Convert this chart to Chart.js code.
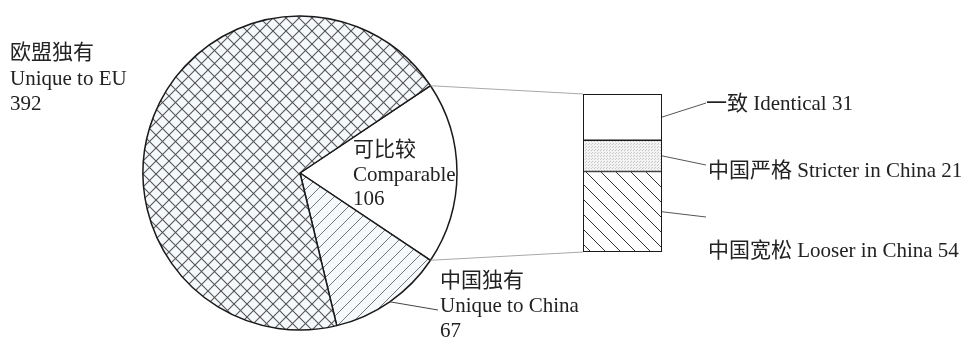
<!DOCTYPE html>
<html><head><meta charset="utf-8">
<script src="https://cdn.jsdelivr.net/npm/chart.js@4"></script>
<style>
html,body{margin:0;padding:0;background:#fff;width:968px;height:337px;overflow:hidden;position:relative}
canvas{position:absolute}
</style></head><body>
<canvas id="pie" width="340" height="336" style="left:130px;top:5px"></canvas>
<canvas id="bar" width="99" height="178" style="left:573px;top:84px"></canvas>
<canvas id="ov" width="968" height="337" style="left:0;top:0"></canvas>
<script>
// ---- data ----
const pieCategoriesZh = ['可比较', '中国独有', '欧盟独有'];
const pieCategoriesEn = ['Comparable', 'Unique to China', 'Unique to EU'];
const pieValues = [106, 67, 392];
const barCategoriesZh = ['中国宽松', '中国严格', '一致'];
const barCategoriesEn = ['Looser in China', 'Stricter in China', 'Identical'];
const barValues = [54, 21, 31];

// ---- patterns ----
function makePattern(size, bg, draw) {
  const c = document.createElement('canvas');
  c.width = size; c.height = size;
  const x = c.getContext('2d');
  x.fillStyle = bg; x.fillRect(0, 0, size, size);
  draw(x, size);
  return x.createPattern(c, 'repeat');
}
function diag(x, s, dir) {
  // dir 1: "\" ; dir -1: "/"
  x.beginPath();
  for (let k = -1; k <= 1; k++) {
    if (dir > 0) { x.moveTo(k * s - 1, -1); x.lineTo(k * s + s + 1, s + 1); }
    else { x.moveTo(k * s - 1, s + 1); x.lineTo(k * s + s + 1, -1); }
  }
  x.stroke();
}
const crossHatch = makePattern(13, '#f6f9fc', (x, s) => {
  x.strokeStyle = '#555'; x.lineWidth = 1.1;
  diag(x, s, 1); diag(x, s, -1);
});
const fwdHatch = makePattern(12, '#f6f9fc', (x, s) => {
  x.strokeStyle = '#777'; x.lineWidth = 1;
  diag(x, s, -1);
});
const backHatch = makePattern(15, '#ffffff', (x, s) => {
  x.strokeStyle = '#333'; x.lineWidth = 1;
  diag(x, s, 1);
});
const dots = makePattern(3, '#f3f3f3', (x) => {
  x.fillStyle = '#c8c8c8'; x.fillRect(0, 0, 1, 1); x.fillRect(1, 2, 1, 1);
});

const pieTotal = pieValues.reduce((a, b) => a + b, 0);
const barTotal = barValues.reduce((a, b) => a + b, 0);

const pieChart = new Chart(document.getElementById('pie'), {
  type: 'pie',
  data: {
    labels: pieCategoriesEn,
    datasets: [{
      data: pieValues,
      backgroundColor: ['#ffffff', fwdHatch, crossHatch],
      borderColor: '#1a1a1a',
      borderWidth: 1.5
    }]
  },
  options: {
    responsive: false, animation: false, events: [],
    rotation: 90 - pieValues[0] / pieTotal * 180,
    radius: 157,
    layout: { padding: 0 },
    plugins: { legend: { display: false }, tooltip: { enabled: false } }
  }
});

const barFills = [backHatch, dots, '#ffffff'];
const barChart = new Chart(document.getElementById('bar'), {
  type: 'bar',
  data: {
    labels: [''],
    datasets: barValues.map((v, i) => ({
      label: barCategoriesEn[i],
      data: [v],
      backgroundColor: barFills[i],
      borderColor: '#1a1a1a',
      borderWidth: 1,
      borderSkipped: false,
      barPercentage: 1,
      categoryPercentage: 1
    }))
  },
  options: {
    responsive: false, animation: false, events: [],
    layout: { padding: 10 },
    scales: {
      x: { display: false, stacked: true },
      y: { display: false, stacked: true, min: 0, max: barTotal }
    },
    plugins: { legend: { display: false }, tooltip: { enabled: false } }
  }
});

// ---- overlay: connectors, leaders, labels ----
const ov = document.getElementById('ov').getContext('2d');
const pieOff = { x: 130, y: 5 }, barOff = { x: 573, y: 84 };
const arcs = pieChart.getDatasetMeta(0).data;
function arcPoint(a, ang) {
  return { x: pieOff.x + a.x + a.outerRadius * Math.cos(ang), y: pieOff.y + a.y + a.outerRadius * Math.sin(ang) };
}
const comp = arcs[0];
const p1 = arcPoint(comp, comp.startAngle), p2 = arcPoint(comp, comp.endAngle);
const bars = barValues.map((v, i) => barChart.getDatasetMeta(i).data[0]);
const barLeft = barOff.x + bars[0].x - bars[0].width / 2;
const barRight = barLeft + bars[0].width;
const barTop = barOff.y + bars[2].y;
const barBottom = barOff.y + bars[0].base;

// outer frame of the bar (slightly heavier, as in the reference)
ov.strokeStyle = '#1a1a1a'; ov.lineWidth = 1;
ov.strokeRect(barLeft + 0.5, barTop + 0.5, barRight - barLeft - 1, barBottom - barTop - 1);

ov.strokeStyle = '#a8a8a8'; ov.lineWidth = 1;
ov.beginPath();
ov.moveTo(p1.x, p1.y); ov.lineTo(barLeft, barTop);
ov.moveTo(p2.x, p2.y); ov.lineTo(barLeft, barBottom);
ov.stroke();

// China leader
const ch = arcs[1];
const pc = arcPoint(ch, (ch.startAngle + ch.endAngle) / 2);
ov.strokeStyle = '#444';
ov.beginPath(); ov.moveTo(pc.x, pc.y); ov.lineTo(438, 310); ov.stroke();

// bar leaders
const barLeaderEnds = [217, 165, 103];
ov.strokeStyle = '#555';
ov.beginPath();
bars.forEach((b, i) => {
  const my = barOff.y + (b.y + b.base) / 2;
  ov.moveTo(barRight, my); ov.lineTo(706, barLeaderEnds[i]);
});
ov.stroke();

ov.fillStyle = '#222';
ov.font = '21px "Liberation Serif", "Noto Sans CJK SC", serif';
ov.textBaseline = 'alphabetic';
function lines(x, ys, arr) { arr.forEach((t, k) => ov.fillText(t, x, ys[k])); }
lines(10, [59, 85, 110], [pieCategoriesZh[2], pieCategoriesEn[2], String(pieValues[2])]);
lines(353, [156, 181, 205], [pieCategoriesZh[0], pieCategoriesEn[0], String(pieValues[0])]);
lines(440, [287, 312, 337], [pieCategoriesZh[1], pieCategoriesEn[1], String(pieValues[1])]);
const barLabelPos = [[708, 257], [708, 177], [706, 110]];
bars.forEach((b, i) => {
  ov.fillText(barCategoriesZh[i] + ' ' + barCategoriesEn[i] + ' ' + barValues[i], barLabelPos[i][0], barLabelPos[i][1]);
});
</script>
</body></html>
